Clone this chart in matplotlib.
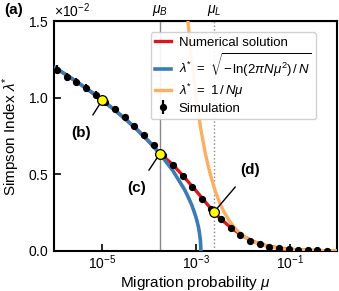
import numpy as np
import matplotlib
matplotlib.use("Agg")
import matplotlib.pyplot as plt

plt.rcParams['font.family'] = ['Liberation Sans', 'DejaVu Sans']
plt.rcParams['mathtext.fontset'] = 'custom'
plt.rcParams['mathtext.rm'] = 'Liberation Sans'
plt.rcParams['mathtext.it'] = 'Liberation Sans:italic'
plt.rcParams['mathtext.bf'] = 'Liberation Sans:bold'

# ---- data (lambda values in units of 1e-2) ----
# simulation: log10(mu) positions and measured Simpson index
sim_logmu = np.linspace(-5.96, -0.21, 29)
sim_lam = [1.183, 1.135, 1.103, 1.063, 1.020, 0.975, 0.926, 0.874, 0.817, 0.754,
           0.693, 0.625, 0.562, 0.490, 0.416, 0.342, 0.272, 0.207, 0.152, 0.107,
           0.067, 0.044, 0.028, 0.018, 0.013, 0.008, 0.006, 0.004, 0.003]
sim_err = [0.028, 0.026, 0.025, 0.024, 0.023, 0.022, 0.021, 0.020, 0.019, 0.018,
           0.017, 0.016, 0.014, 0.013, 0.012, 0.010, 0.009, 0.008, 0.007, 0.006,
           0.005, 0.004, 0.003, 0.002, 0.002, 0.001, 0.001, 0.001, 0.001]

# numerical solution
num_logmu = [-6.0, -5.75, -5.5, -5.25, -5.0, -4.75, -4.5, -4.25, -4.0, -3.75,
             -3.5, -3.25, -3.0, -2.75, -2.5, -2.25, -2.0, -1.75, -1.5, -1.25,
             -1.0, -0.75, -0.5, -0.25, 0.0]
num_lam = [1.195, 1.146, 1.095, 1.041, 0.984, 0.923, 0.859, 0.789, 0.713, 0.630,
           0.565, 0.480, 0.392, 0.300, 0.215, 0.150, 0.097, 0.058, 0.034, 0.020,
           0.011, 0.006, 0.0035, 0.002, 0.001]

# approximation sqrt(-ln(2 pi N mu^2)/N)
sqrt_logmu = [-6.0, -5.75, -5.5, -5.25, -5.0, -4.75, -4.5, -4.25, -4.0, -3.75,
              -3.5, -3.25, -3.2, -3.1, -3.05, -3.0, -2.97, -2.95, -2.93, -2.91,
              -2.905, -2.899]
sqrt_lam = [1.195, 1.146, 1.095, 1.041, 0.984, 0.923, 0.859, 0.789, 0.712, 0.626,
            0.526, 0.402, 0.372, 0.305, 0.263, 0.217, 0.181, 0.155, 0.119, 0.071,
            0.052, 0.0]

# approximation 1/(N mu)
inv_logmu = [-3.2, -3.1, -3.0, -2.9, -2.8, -2.7, -2.6, -2.5, -2.4, -2.3, -2.2,
             -2.1, -2.0, -1.8, -1.6, -1.4, -1.2, -1.0, -0.5, 0.0]
inv_lam = [1.585, 1.259, 1.0, 0.794, 0.631, 0.501, 0.398, 0.316, 0.251, 0.200,
           0.158, 0.126, 0.100, 0.063, 0.040, 0.025, 0.016, 0.010, 0.003, 0.001]

mu_B = 1.68e-4
mu_L = 2.44e-3

# highlighted points (b), (c), (d)
hl_mu = [1.0e-5, mu_B, mu_L]
hl_lam = [0.984, 0.634, 0.257]
hl_labels = ['(b)', '(c)', '(d)']
hl_text = [(3.6e-6, 0.77), (5.5e-5, 0.41), (1.4e-2, 0.53)]

red = '#d7191c'
blue = '#3a7bb8'
orange = '#fdae61'

fig = plt.figure(figsize=(3.39, 2.91), dpi=100)
ax = fig.add_axes([0.159, 0.1375, 0.835, 0.79])

ax.axvline(mu_B, color='#888888', lw=1.0, zorder=1)
ax.axvline(mu_L, color='#888888', lw=1.0, ls=':', zorder=1)

ax.plot(10.0 ** np.array(num_logmu), np.array(num_lam) * 1e-2, color=red, lw=2.4,
        label='Numerical solution', zorder=2)
ax.plot(10.0 ** np.array(sqrt_logmu), np.array(sqrt_lam) * 1e-2, color=blue, lw=2.6,
        label=r'$\lambda^{*}\ =\ \sqrt{-\,\mathrm{ln}(2\pi N\mu^2)\,/\,N}$', zorder=3)
ax.plot(10.0 ** np.array(inv_logmu), np.array(inv_lam) * 1e-2, color=orange, lw=2.4,
        label=r'$\lambda^{*}\ =\ 1\,/\,N\mu$', zorder=3)
ax.errorbar(10.0 ** sim_logmu, np.array(sim_lam) * 1e-2, yerr=np.array(sim_err) * 1e-2,
            fmt='o', color='black', ms=4.2, elinewidth=1.6, capsize=0,
            label='Simulation', zorder=4)

ax.plot(hl_mu, np.array(hl_lam) * 1e-2, 'o', ms=7, mfc='#ffff00', mec='black',
        mew=0.9, zorder=6)
for m, l, lab, (tx, ty) in zip(hl_mu, hl_lam, hl_labels, hl_text):
    ax.annotate(lab, xy=(m, l * 1e-2), xytext=(tx, ty * 1e-2), fontsize=11,
                fontweight='bold', ha='center', va='center', zorder=7,
                arrowprops=dict(arrowstyle='-', color='black', lw=1.0,
                                shrinkA=7, shrinkB=3.5))

ax.set_xscale('log')
ax.set_xlim(10 ** -6.03, 1.0)
ax.set_ylim(0, 1.5e-2)
ax.set_xticks([1e-5, 1e-3, 1e-1])
ax.xaxis.set_minor_locator(matplotlib.ticker.NullLocator())
ax.set_yticks([0, 0.5e-2, 1.0e-2, 1.5e-2])
ax.ticklabel_format(axis='y', style='sci', scilimits=(0, 0), useMathText=True)
ax.yaxis.get_offset_text().set_fontsize(10)
ax.tick_params(direction='in', length=5, width=1.2, labelsize=10, pad=4)
ax.tick_params(axis='x', pad=1.5)
for s in ax.spines.values():
    s.set_linewidth(1.5)

ax.set_xlabel(r'Migration probability $\mu$', fontsize=11, labelpad=2)
ax.set_ylabel(r'Simpson Index $\lambda^{*}$', fontsize=11, labelpad=4)

top = ax.secondary_xaxis('top')
top.set_xticks([mu_B, mu_L])
top.set_xticklabels([r'$\mu_B$', r'$\mu_L$'])
top.xaxis.set_minor_locator(matplotlib.ticker.NullLocator())
top.tick_params(length=0, labelsize=10, pad=2)

leg = ax.legend(loc='upper right', fontsize=9.5, handlelength=1.2,
                handletextpad=0.6, labelspacing=0.2, borderpad=0.35,
                borderaxespad=0, bbox_to_anchor=(0.926, 0.952),
                framealpha=0.9, edgecolor='#cccccc')
leg.set_zorder(10)

fig.text(0.012, 0.965, '(a)', fontsize=11, fontweight='bold', ha='left', va='center')

fig.savefig('out.png', dpi=100)
